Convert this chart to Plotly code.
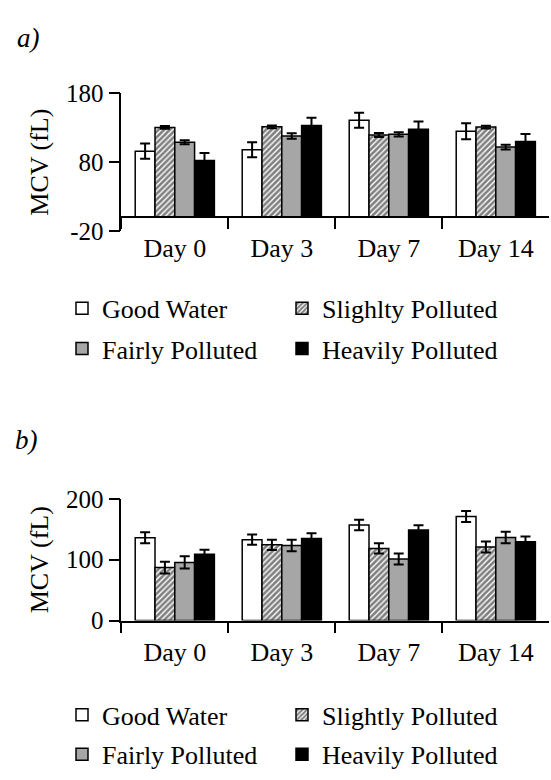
import plotly.graph_objects as go

days = ["Day 0", "Day 3", "Day 7", "Day 14"]

# Panel a
a_names = ["Good Water", "Slighlty Polluted", "Fairly Polluted", "Heavily Polluted"]
a_good = [96, 98, 141, 125]
a_good_err = [11, 11, 11, 11.5]
a_slight = [130.5, 131.5, 119.5, 131]
a_slight_err = [2, 2, 3, 2]
a_fair = [109, 118, 120.5, 102]
a_fair_err = [3, 4, 3, 3.5]
a_heavy = [82.5, 133.5, 128, 110]
a_heavy_err = [11, 11, 11, 11]
a_ticks = [-20, 80, 180]
a_ticktext = ["-20", "80", "180"]

# Panel b
b_names = ["Good Water", "Slightly Polluted", "Fairly Polluted", "Heavily Polluted"]
b_good = [136, 133, 157, 171]
b_good_err = [9, 8.5, 8.5, 9]
b_slight = [87, 124.5, 118.5, 121]
b_slight_err = [9.5, 8.5, 8.5, 9]
b_fair = [95.5, 123.5, 101, 136.5]
b_fair_err = [10, 9.5, 9, 9.5]
b_heavy = [109, 135, 149, 129.5]
b_heavy_err = [7.5, 8.5, 7.5, 8.5]
b_ticks = [0, 100, 200]
b_ticktext = ["0", "100", "200"]

FONT = "Liberation Serif"
W, H = 551, 780

styles = [
    dict(color="white"),
    dict(color="white", pattern=dict(shape="/", fgcolor="black", bgcolor="white", size=4, solidity=0.65)),
    dict(color="#a6a6a6"),
    dict(color="black"),
]

fig = go.Figure()

def add_panel(names, vals, errs, xa, ya, legends):
    for i, (name, v, e, st) in enumerate(zip(names, vals, errs, styles)):
        fig.add_trace(go.Bar(
            x=days, y=v, name=name, xaxis=xa, yaxis=ya, legend=legends[i // 2],
            marker=dict(**st, line=dict(color="black", width=1.5)),
            error_y=dict(type="data", array=e, visible=True, color="black", thickness=2, width=5),
        ))

add_panel(a_names, [a_good, a_slight, a_fair, a_heavy],
          [a_good_err, a_slight_err, a_fair_err, a_heavy_err], "x", "y", ["legend", "legend2"])
add_panel(b_names, [b_good, b_slight, b_fair, b_heavy],
          [b_good_err, b_slight_err, b_fair_err, b_heavy_err], "x2", "y2", ["legend3", "legend4"])

def px2x(p):
    return p / W

def px2y(p):
    return 1 - p / H

xdom = [px2x(121.3), px2x(549.3)]
ya_dom = [px2y(225.7), px2y(83.3)]
yb_dom = [px2y(629.3), px2y(503.3)]
a_zero = px2y(225.7 - 20 * (225.7 - 83.3) / 200)

line = dict(showline=True, linecolor="black", linewidth=1.5, showgrid=False, zeroline=False)
bounds = [-0.5, 0.5, 1.5, 2.5, 3.5]

common_x = dict(domain=xdom, type="category", categoryarray=days, categoryorder="array",
                range=[-0.5, 3.5], ticks="outside", ticklen=11, tickwidth=1.5, tickcolor="black",
                tickson="boundaries", ticklabelstandoff=8,
                tickfont=dict(family=FONT, size=26, color="black"), **line)
up_x = dict(domain=xdom, type="linear", range=[-0.5, 3.5], tickmode="array", tickvals=bounds,
            ticks="inside", ticklen=10, tickwidth=1.5, tickcolor="black",
            showticklabels=False, showline=False, showgrid=False, zeroline=False)

common_y = dict(ticks="outside", ticklen=11, tickwidth=1.5, tickcolor="black",
                tickfont=dict(family=FONT, size=25, color="black"), tickmode="array",
                title=dict(text="MCV (fL)", font=dict(family=FONT, size=26, color="black"), standoff=10),
                **line)

def leg(xpx, ytop):
    return dict(orientation="h", x=px2x(xpx), xanchor="left", y=px2y(ytop), yanchor="top",
                entrywidth=175, font=dict(family=FONT, size=26, color="black"),
                bgcolor="rgba(0,0,0,0)", traceorder="normal")

ROW_OFF = 23.4
fig.update_layout(
    width=W, height=H, margin=dict(l=0, r=0, t=0, b=0),
    paper_bgcolor="white", plot_bgcolor="white",
    font=dict(family=FONT, size=25, color="black"),
    barmode="group", bargap=0.26, bargroupgap=0,
    xaxis=dict(anchor="free", position=a_zero, **common_x),
    xaxis3=dict(overlaying="x", anchor="free", position=a_zero, **up_x),
    yaxis=dict(domain=ya_dom, anchor="x", range=[-20, 180], tickvals=a_ticks, ticktext=a_ticktext, **common_y),
    xaxis2=dict(anchor="y2", **common_x),
    xaxis4=dict(overlaying="x2", anchor="y2", **up_x),
    yaxis2=dict(domain=yb_dom, anchor="x2", range=[0, 200], tickvals=b_ticks, ticktext=b_ticktext, **common_y),
    legend=leg(62, 305 - ROW_OFF),
    legend2=leg(62, 346.7 - ROW_OFF),
    legend3=leg(62, 726 - ROW_OFF),
    legend4=leg(62, 767 - ROW_OFF),
    annotations=[
        dict(text="<i>a)</i>", xref="paper", yref="paper", x=px2x(15), y=px2y(26),
             xanchor="left", yanchor="middle", showarrow=False,
             font=dict(family=FONT, size=27, color="black")),
        dict(text="<i>b)</i>", xref="paper", yref="paper", x=px2x(13), y=px2y(442),
             xanchor="left", yanchor="middle", showarrow=False,
             font=dict(family=FONT, size=27, color="black")),
    ],
    showlegend=True,
)

fig.write_html("out.html", config=dict(displayModeBar=False),
               post_script="document.body.style.margin='0px';document.body.style.overflow='hidden';")
